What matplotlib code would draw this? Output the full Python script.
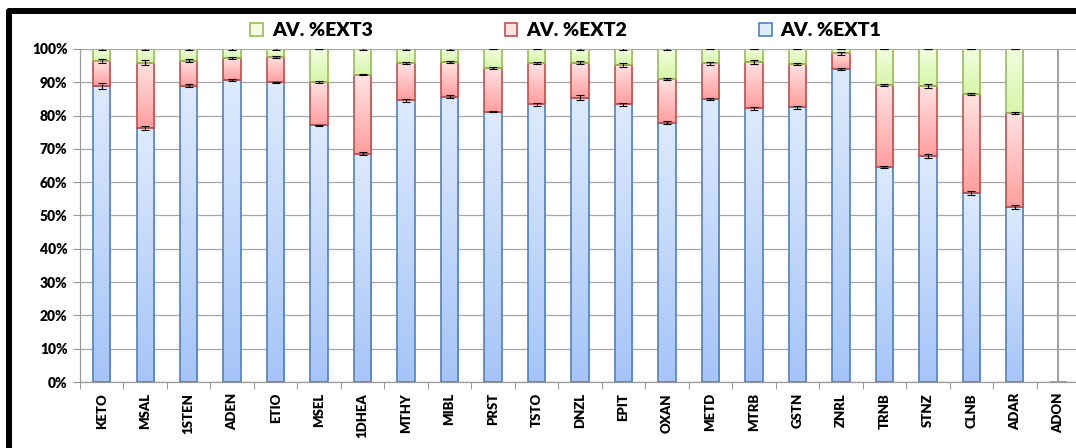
import numpy as np
import matplotlib
matplotlib.use("Agg")
import matplotlib.pyplot as plt
from matplotlib.colors import LinearSegmentedColormap
from matplotlib.patches import Patch
from matplotlib.lines import Line2D

# Average extraction fractions (%) per compound; ADON has no data
categories = ["KETO", "MSAL", "1STEN", "ADEN", "ETIO", "MSEL", "1DHEA", "MTHY",
              "MIBL", "PRST", "TSTO", "DNZL", "EPIT", "OXAN", "METD", "MTRB",
              "GSTN", "ZNRL", "TRNB", "STNZ", "CLNB", "ADAR", "ADON"]
ext1 = [88.9, 76.2, 89.0, 90.8, 90.0, 77.1, 68.6, 84.6, 85.7, 81.2, 83.4, 85.4,
        83.4, 77.9, 85.1, 82.2, 82.5, 94.0, 64.5, 67.9, 56.7, 52.6, 0.0]
ext2 = [7.5, 19.7, 7.5, 6.6, 7.6, 13.1, 23.7, 11.1, 10.4, 13.2, 12.3, 10.5,
        11.8, 13.1, 10.6, 14.0, 13.0, 4.7, 24.7, 21.0, 29.8, 28.3, 0.0]
ext3 = [3.6, 4.1, 3.5, 2.6, 2.4, 9.8, 7.7, 4.3, 3.9, 5.6, 4.3, 4.1,
        4.8, 9.0, 4.3, 3.8, 4.5, 1.3, 10.8, 11.1, 13.5, 19.1, 0.0]
err1 = [0.9, 0.6, 0.5, 0.3, 0.1, 0.1, 0.4, 0.5, 0.4, 0.2, 0.4, 0.7,
        0.5, 0.5, 0.3, 0.5, 0.5, 0.3, 0.3, 0.5, 0.6, 0.5, 0.0]
err2 = [0.6, 0.8, 0.4, 0.3, 0.2, 0.3, 0.2, 0.3, 0.3, 0.3, 0.3, 0.4,
        0.5, 0.3, 0.5, 0.6, 0.4, 0.4, 0.4, 0.5, 0.3, 0.3, 0.0]
err3 = [0.3, 0.2, 0.2, 0.3, 0.2, 0.1, 0.4, 0.2, 0.2, 0.1, 0.1, 0.2,
        0.2, 0.2, 0.1, 0.1, 0.1, 0.1, 0.1, 0.1, 0.1, 0.1, 0.0]
series_labels = ["AV. %EXT1", "AV. %EXT2", "AV. %EXT3"]
yticks = [0, 10, 20, 30, 40, 50, 60, 70, 80, 90, 100]

# (bottom colour, top colour, edge colour) for each series
styles = [
    ((0.65, 0.77, 0.97), (0.87, 0.92, 0.99), "#4f81bd"),
    ((1.00, 0.62, 0.62), (1.00, 0.89, 0.89), "#c0504d"),
    ((0.84, 0.96, 0.66), (0.95, 1.00, 0.88), "#9bbb59"),
]

plt.rcParams["font.family"] = ["Lato", "DejaVu Sans"]
plt.rcParams["font.weight"] = "heavy"

W, H = 1076, 448
fig = plt.figure(figsize=(W / 100, H / 100), dpi=100)
ax = fig.add_axes([80 / W, 66 / H, 1000 / W, 333 / H])

x = np.arange(len(categories))
e1, e2, e3 = (np.array(v, float) for v in (ext1, ext2, ext3))
bottoms = [np.zeros_like(e1), e1, e1 + e2]
heights = [e1, e2, e3]
errs = [np.array(err1), np.array(err2), np.array(err3)]
grad = np.linspace(0, 1, 256).reshape(-1, 1)

for h, b, (c_bot, c_top, edge) in zip(heights, bottoms, styles):
    bars = ax.bar(x, h, bottom=b, width=0.4, facecolor="none",
                  edgecolor=edge, linewidth=1.2, zorder=3)
    cmap = LinearSegmentedColormap.from_list("g", [c_bot, c_top])
    for p in bars:
        if p.get_height() <= 0:
            continue
        x0, y0 = p.get_x(), p.get_y()
        im = ax.imshow(grad, extent=(x0, x0 + p.get_width(), y0, y0 + p.get_height()),
                       origin="lower", cmap=cmap, aspect="auto", zorder=2,
                       interpolation="bilinear")
        im.set_clip_path(p)

# error bars at each cumulative segment top
has = (e1 + e2 + e3) > 0
for h, b, er in zip(heights, bottoms, errs):
    ax.errorbar(x[has], (b + h)[has], yerr=er[has], fmt="none", ecolor="black",
                elinewidth=0.8, capsize=2.8, capthick=0.8, zorder=4)

# empty ADON column
ax.axvline(categories.index("ADON"), color="#a0a0a0", lw=1.4, zorder=1)

ax.set_xlim(-0.5, len(categories) - 0.5)
ax.set_ylim(0, 100)
ax.set_yticks(yticks, [f"{v}%" for v in yticks], fontsize=10)
ax.set_xticks(x, categories, rotation=90, fontsize=9.5)
ax.set_xticks(np.arange(len(categories) + 1) - 0.5, minor=True)
ax.tick_params(axis="x", which="major", length=0, pad=8)
ax.tick_params(axis="x", which="minor", length=5, color="#999999", width=0.8)
ax.tick_params(axis="y", length=5, color="#999999", width=0.8, pad=4)
ax.yaxis.grid(True, color="#a6a6a6", lw=0.9, zorder=0)
ax.set_axisbelow(True)
for s in ("top", "right"):
    ax.spines[s].set_visible(False)
for s in ("left", "bottom"):
    ax.spines[s].set_color("#999999")
    ax.spines[s].set_linewidth(0.9)

handles = [Patch(facecolor=styles[i][1], edgecolor=styles[i][2], lw=1.2,
                 label=series_labels[i]) for i in (2, 1, 0)]
fig.legend(handles=handles, loc="center", bbox_to_anchor=(566 / W, 1 - 31 / H),
           ncol=3, frameon=False, fontsize=14, handlelength=0.65,
           handleheight=0.65, handletextpad=0.45, columnspacing=6.8)

# outer chart frame (left and top edges; the rest runs off the canvas)
frame = Line2D([9 / W, 9 / W, 1.05], [-0.05, 1 - 11.5 / H, 1 - 11.5 / H],
               transform=fig.transFigure, color="black", lw=4.3,
               solid_joinstyle="round", clip_on=False)
fig.add_artist(frame)

fig.savefig("out.png", dpi=100)
